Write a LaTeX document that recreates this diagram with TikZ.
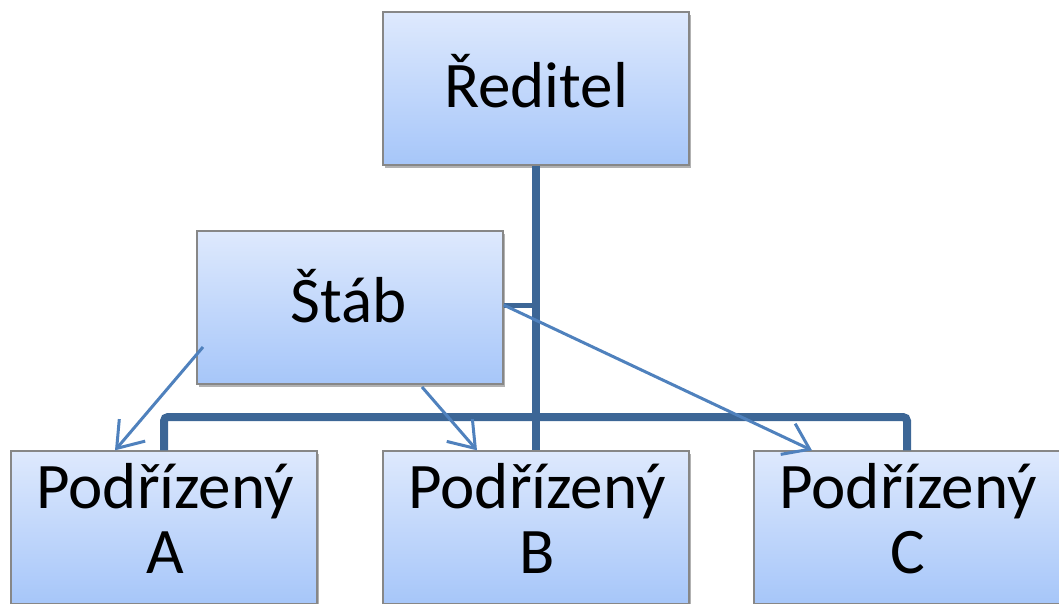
\documentclass[tikz,border=0pt]{standalone}
\usepackage{fontspec}
\setmainfont{Carlito}
\usetikzlibrary{arrows.meta,shadows}
\definecolor{boxtop}{RGB}{222,233,253}
\definecolor{boxbot}{RGB}{166,198,249}
\definecolor{boxline}{RGB}{135,135,135}
\definecolor{thickblue}{RGB}{60,102,150}
\definecolor{thinblue}{RGB}{79,129,189}
\tikzset{
  orgbox/.style={draw=boxline, line width=1.3pt, top color=boxtop, bottom color=boxbot,
    minimum width=306pt, minimum height=153pt, inner sep=0pt,
    drop shadow={shadow xshift=2pt, shadow yshift=-3pt, opacity=0.3, fill=black}},
  lbl/.style={anchor=base, inner sep=0pt, font=\fontsize{65}{72}\selectfont},
  thickline/.style={draw=thickblue, line width=8pt},
  stubline/.style={draw=thickblue, line width=5pt},
  thinarrow/.style={draw=thinblue, line width=3pt,
    -{Straight Barb[length=24pt,width=34pt,line width=3pt]}},
}
\begin{document}
\begin{tikzpicture}[x=1pt,y=-1pt]
\useasboundingbox (0,0) rectangle (1059,603);
% boxes
\node[orgbox] (dir) at (536,88.5) {};
\node[orgbox] (stab) at (350,307.5) {};
\node[orgbox] (A) at (164,527.5) {};
\node[orgbox] (B) at (536,527.5) {};
\node[orgbox] (C) at (907,527.5) {};
% texts
\node[lbl] (tdir) at (536,107) {Ředitel};
\node[lbl] (tstab) at (349,322) {Štáb};
\node[lbl] (tA1) at (165,508) {Podřízený};
\node[lbl] (tA2) at (165,573) {A};
\node[lbl] (tB1) at (537,508) {Podřízený};
\node[lbl] (tB2) at (537,573) {B};
\node[lbl] (tC1) at (908,508) {Podřízený};
\node[lbl] (tC2) at (908,573) {C};
% thick connectors
\coordinate (bar) at (536,417);
\draw[thickline] (dir.south) -- (B.north);
\draw[thickline, rounded corners=4pt] (A.north) |- (bar) -| (C.north);
\draw[stubline] ([yshift=2.5pt]stab.east) -- ([yshift=2.5pt]stab.east -| dir.south);
% thin arrows
\coordinate (s1) at (203,347);
\coordinate (s2) at (422,387);
\draw[thinarrow] (s1) -- ([xshift=-49pt]A.north);
\draw[thinarrow] (s2) -- ([xshift=-59pt]B.north);
\draw[thinarrow] ([yshift=2.5pt]stab.east) -- ([xshift=-95pt]C.north);
\end{tikzpicture}
\end{document}
